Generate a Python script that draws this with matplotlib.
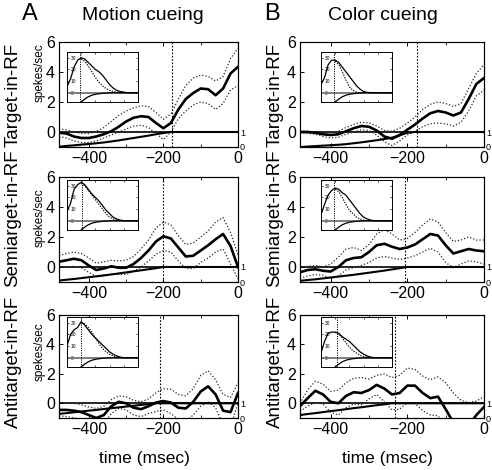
import numpy as np
import matplotlib
matplotlib.use('Agg')
import matplotlib.pyplot as plt

plt.rcParams['font.family'] = ['Liberation Sans', 'DejaVu Sans']

# time axis (msec before saccade), sampled every 20 ms
time_ms = list(range(-480, 1, 20))

# ---- Motion cueing (A) ----
a1_mean = [-0.05, -0.1, -0.3, -0.4, -0.4, -0.3, -0.15, 0.05, 0.35, 0.7, 0.95, 1.05, 1.0,
           0.6, 0.25, 0.6, 1.5, 2.2, 2.6, 2.9, 2.85, 2.45, 2.9, 3.9, 4.35]
a1_upper = [0.2, 0.15, 0.0, -0.1, -0.1, 0.05, 0.3, 0.7, 1.1, 1.4, 1.6, 1.75, 1.7,
            1.3, 0.85, 1.2, 2.2, 3.1, 3.6, 3.8, 3.7, 3.4, 3.7, 4.9, 5.6]
a1_lower = [-0.3, -0.4, -0.6, -0.7, -0.7, -0.6, -0.4, -0.2, 0.0, 0.2, 0.4, 0.45, 0.3,
            -0.1, -0.5, 0.0, 0.9, 1.4, 1.8, 2.0, 1.9, 1.5, 1.9, 2.8, 3.1]
a1_cdf = [0.02, 0.07, 0.11, 0.16, 0.2, 0.25, 0.3, 0.37, 0.44, 0.52, 0.6, 0.68, 0.76,
          0.85, 0.93, 1, 1, 1, 1, 1, 1, 1, 1, 1, 1]

a2_mean = [0.35, 0.45, 0.55, 0.45, 0.1, -0.2, -0.1, 0.05, -0.05, -0.05, 0.2, 0.6, 1.1,
           1.7, 2.05, 1.9, 1.3, 0.7, 0.75, 1.1, 1.45, 1.85, 2.2, 1.4, 0.0]
a2_upper = [0.75, 0.9, 1.0, 0.9, 0.6, 0.25, 0.35, 0.45, 0.4, 0.45, 0.7, 1.2, 1.8,
            2.6, 3.0, 2.8, 2.1, 1.5, 1.6, 2.0, 2.4, 3.0, 3.3, 2.3, 0.8]
a2_lower = [-0.05, 0.0, 0.05, -0.05, -0.35, -0.65, -0.6, -0.45, -0.5, -0.5, -0.3, 0.0, 0.4,
            0.85, 1.1, 1.0, 0.4, -0.1, -0.1, 0.3, 0.6, 1.0, 1.2, 0.2, -0.8]
a2_cdf = [0.1, 0.15, 0.2, 0.26, 0.32, 0.38, 0.44, 0.5, 0.57, 0.64, 0.71, 0.78, 0.85,
          0.92, 1, 1, 1, 1, 1, 1, 1, 1, 1, 1, 1]

a3_mean = [-0.45, -0.45, -0.5, -0.6, -0.8, -1.0, -0.8, -0.2, 0.1, 0.0, -0.3, -0.4, -0.2,
           0.05, 0.15, 0.05, -0.3, -0.35, 0.1, 0.8, 1.15, 0.6, -0.5, -0.6, 0.7]
a3_upper = [0.05, 0.05, 0.0, -0.1, -0.25, -0.35, -0.2, 0.25, 0.5, 0.45, 0.2, 0.1, 0.3,
            0.7, 1.0, 0.95, 0.6, 0.5, 1.0, 1.9, 2.2, 1.6, 0.6, 0.4, 1.4]
a3_lower = [-0.85, -0.9, -1.0, -1.1, -1.3, -1.6, -1.4, -0.7, -0.35, -0.45, -0.8, -0.9, -0.7,
            -0.55, -0.45, -0.7, -1.1, -1.2, -0.8, -0.2, 0.1, -0.3, -1.5, -1.6, 0.0]
a3_cdf = [0.28, 0.33, 0.39, 0.44, 0.5, 0.55, 0.61, 0.67, 0.72, 0.78, 0.83, 0.89, 0.94,
          1, 1, 1, 1, 1, 1, 1, 1, 1, 1, 1, 1]

# ---- Color cueing (B) ----
b1_mean = [0.0, 0.0, -0.05, -0.15, -0.2, -0.15, 0.05, 0.25, 0.4, 0.35, 0.1, -0.3, -0.45,
           -0.2, 0.15, 0.5, 0.9, 1.25, 1.4, 1.3, 1.1, 1.3, 2.2, 3.2, 3.6]
b1_upper = [0.05, 0.05, 0.0, -0.05, -0.05, 0.05, 0.3, 0.5, 0.65, 0.6, 0.4, 0.1, 0.05,
            0.25, 0.6, 1.0, 1.5, 1.85, 2.0, 1.9, 1.7, 1.9, 2.9, 3.9, 4.5]
b1_lower = [-0.05, -0.1, -0.15, -0.3, -0.4, -0.35, -0.15, 0.0, 0.15, 0.1, -0.2, -0.65, -0.9,
            -0.6, -0.2, 0.05, 0.35, 0.55, 0.6, 0.55, 0.4, 0.65, 1.4, 2.4, 2.8]
b1_cdf = [0.0, 0.03, 0.06, 0.09, 0.12, 0.15, 0.19, 0.25, 0.31, 0.38, 0.45, 0.53, 0.62,
          0.78, 0.95, 1, 1, 1, 1, 1, 1, 1, 1, 1, 1]

b2_mean = [-0.35, -0.2, -0.15, -0.25, -0.3, 0.0, 0.45, 0.6, 0.65, 1.0, 1.45, 1.55, 1.35,
           1.2, 1.3, 1.5, 1.85, 2.2, 2.1, 1.45, 0.9, 1.05, 1.2, 1.1, 1.05]
b2_upper = [-0.05, 0.05, 0.1, 0.0, 0.2, 0.65, 1.2, 1.3, 1.1, 1.5, 2.2, 2.5, 2.2,
            1.8, 1.9, 2.3, 2.8, 3.2, 3.0, 2.3, 1.7, 1.8, 2.0, 1.8, 1.8]
b2_lower = [-0.75, -0.6, -0.5, -0.55, -0.75, -0.6, -0.2, -0.05, 0.1, 0.3, 0.6, 0.7, 0.6,
            0.5, 0.6, 0.75, 1.0, 1.25, 1.0, 0.3, -0.05, 0.2, 0.4, 0.35, 0.2]
b2_cdf = [0.08, 0.13, 0.18, 0.24, 0.3, 0.36, 0.42, 0.48, 0.55, 0.62, 0.69, 0.76, 0.84,
          0.92, 1, 1, 1, 1, 1, 1, 1, 1, 1, 1, 1]

b3_mean = [-0.2, 0.35, 0.85, 0.6, 0.1, 0.0, 0.5, 0.75, 0.7, 0.9, 1.25, 1.0, 0.6,
           0.7, 1.2, 1.2, 0.7, 0.35, 0.45, -0.4, -1.3, -1.8, -1.5, -0.8, -0.25]
b3_upper = [0.0, 0.9, 1.5, 1.3, 0.8, 0.9, 1.4, 1.7, 1.75, 1.65, 1.9, 2.0, 1.75,
            1.9, 2.4, 2.3, 1.85, 1.6, 1.8, 1.4, 0.7, 0.2, 0.05, 0.15, 0.45]
b3_lower = [-0.55, -0.2, 0.05, -0.05, -0.6, -0.8, -0.3, -0.05, -0.1, 0.3, 0.6, 0.1, -0.45,
            -0.4, 0.05, 0.0, -0.5, -0.8, -0.85, -1.5, -2.5, -3.0, -2.8, -1.8, -0.9]
b3_cdf = [0.2, 0.27, 0.33, 0.4, 0.47, 0.53, 0.6, 0.67, 0.73, 0.8, 0.87, 0.93, 1,
          1, 1, 1, 1, 1, 1, 1, 1, 1, 1, 1, 1]

# vertical dotted marker per panel (msec)
vline_ms = {'a1': -178, 'a2': -200, 'a3': -208, 'b1': -175, 'b2': -205, 'b3': -232}

# ---- insets (filter kernels) ----
ins_t = list(range(0, 101, 5))
nan = np.nan
ins_pos = {
    'a1': [5, 12, 22, 28, 30, 29, 26, 23, 20, 18, 15, 11, 7, 4, 2, 1, 0.5, 0, 0, 0, 0],
    'a2': [8, 15, 27, 31, 33, 31, 27, 23, 20, 17, 13, 9, 6, 3, 1.5, 0.5, 0, 0, 0, 0, 0],
    'a3': [10, 20, 24, 26, 31, 28, 24, 20, 17, 14, 11, 8, 5, 3, 1.5, 0.5, 0, 0, 0, 0, 0],
    'b1': [7, 13, 24, 28, 28, 26, 22, 18, 14, 10, 6, 3, 1, 0.3, 0, 0, 0, 0, 0, 0, 0],
    'b2': [5, 14, 22, 26, 28, 27, 24, 22, 18, 14, 10, 6, 3, 1.5, 0.5, 0, 0, 0, 0, 0, 0],
    'b3': [4, 14, 21, 22, 22, 21, 18, 16, 14, 11, 8, 5, 3, 1.5, 0.5, 0, 0, 0, 0, 0, 0],
}
ins_dot = {
    'a1': [nan, nan, nan, nan, 29, 27, 23, 18, 13, 9, 6, 3.5, 2, 1, 0.5, 0, 0, 0, 0, 0, 0],
    'a2': [nan, nan, nan, nan, 32, 30, 26, 22, 18, 14, 10, 6, 3, 1.5, 0.5, 0, 0, 0, 0, 0, 0],
    'a3': [nan, nan, nan, nan, 30, 29, 26, 22, 17, 12, 8, 5, 3, 1.5, 0.5, 0, 0, 0, 0, 0, 0],
    'b1': [nan, nan, nan, nan, 27, 24, 18, 11, 5, 2, 0.5, 0, 0, 0, 0, 0, 0, 0, 0, 0, 0],
    'b2': [nan, nan, nan, nan, 27, 25, 20, 14, 9, 6, 3, 1.5, 0.5, 0, 0, 0, 0, 0, 0, 0, 0],
    'b3': [nan, nan, nan, nan, 22, 20, 17, 13, 9, 6, 4, 2, 1, 0.5, 0, 0, 0, 0, 0, 0, 0],
}
ins_neg = [nan, nan, nan, nan, -8, -5.5, -3.5, -2.2, -1.4, -0.9, -0.5, -0.3, -0.1, 0, 0, 0, 0, 0, 0, 0, 0]
ins_vline = {'a1': 19, 'a2': 21, 'a3': 20, 'b1': 18, 'b2': 19, 'b3': 22}

panels = {
    'a1': (a1_mean, a1_upper, a1_lower, a1_cdf),
    'a2': (a2_mean, a2_upper, a2_lower, a2_cdf),
    'a3': (a3_mean, a3_upper, a3_lower, a3_cdf),
    'b1': (b1_mean, b1_upper, b1_lower, b1_cdf),
    'b2': (b2_mean, b2_upper, b2_lower, b2_cdf),
    'b3': (b3_mean, b3_upper, b3_lower, b3_cdf),
}
row_names = ['Target-in-RF', 'Semiarget-in-RF', 'Antitarget-in-RF']

W, H = 492, 470
fig = plt.figure(figsize=(W / 100, H / 100), dpi=100)

col_left = {'a': 59, 'b': 300}
col_width = {'a': 179, 'b': 184}
row_top = [42, 177, 315]
row_h = [105, 105, 103]
inset_left = {'a': 67, 'b': 321}
inset_top = [52, 180, 317]
label_y = [95, 218, 362]
dot_style = (0, (1, 1.6))


def px_axes(x, y, w, h):
    return fig.add_axes([x / W, 1 - (y + h) / H, w / W, h / H])


for col in ['a', 'b']:
    for r in range(3):
        key = col + str(r + 1)
        mean, upper, lower, cdf = panels[key]
        ax = px_axes(col_left[col], row_top[r], col_width[col], row_h[r])

        ax.axhline(0, color='k', lw=1.2, zorder=2)
        ax.axvline(vline_ms[key], color='k', lw=0.8, ls=(0, (1.5, 1.5)), zorder=2)
        ax.plot(time_ms, upper, color='0.15', lw=0.9, ls=dot_style, zorder=3)
        ax.plot(time_ms, lower, color='0.15', lw=0.9, ls=dot_style, zorder=3)
        ax.plot(time_ms, mean, color='k', lw=1.9, zorder=4)

        ax.set_xlim(-480, 0)
        ax.set_ylim(-1, 6)
        ax.set_xticks([-400, -200, 0])
        ax.set_xticks([-300, -100], minor=True)
        ax.set_yticks([0, 2, 4, 6])
        ax.tick_params(direction='in', top=True, right=True, labelsize=11.5,
                       length=3, width=0.7, pad=3)
        ax.tick_params(which='minor', direction='in', top=True, length=2, width=0.6)
        for s in ax.spines.values():
            s.set_linewidth(0.8)

        # cumulative distribution on the right axis (0 at bottom, 1 at y=0)
        ax2 = ax.twinx()
        ax2.plot(time_ms, cdf, color='k', lw=1.5, zorder=5)
        ax2.set_ylim(0, 7)
        ax2.set_yticks([0, 1])
        ax2.tick_params(direction='in', labelsize=6.5, length=2, pad=1.5)

        if col == 'a':
            fig.text(40 / W, 1 - (row_top[r] + row_h[r] * [0.29, 0.39, 0.36][r]) / H,
                     'spekes/sec', rotation=90, ha='center', va='center', fontsize=8.5)
            fig.text(13 / W, 1 - label_y[r] / H, row_names[r], rotation=90,
                     ha='center', va='center', fontsize=13.5)
        else:
            fig.text(275 / W, 1 - label_y[r] / H, row_names[r], rotation=90,
                     ha='center', va='center', fontsize=13.5)

        # inset with kernel shapes
        ins = px_axes(inset_left[col], inset_top[r], 71, 50)
        ins.axhline(0, color='0.45', lw=1.3)
        ins.axvline(ins_vline[key], color='k', lw=0.7, ls=(0, (1.2, 1.2)))
        ins.plot(ins_t, ins_pos[key], color='k', lw=0.9)
        ins.plot(ins_t, ins_dot[key], color='k', lw=0.8, ls=(0, (1.2, 1.2)))
        ins.plot(ins_t, ins_neg, color='k', lw=0.9)
        ins.set_xlim(0, 100)
        ins.set_ylim(-8, 35)
        ins.set_xticks([0, 20, 40, 60, 80, 100])
        ins.set_xticklabels([])
        ins.set_yticks([0, 10, 20, 30])
        ins.tick_params(direction='in', top=True, right=True, labelsize=3.5,
                        length=1.5, width=0.5, pad=1)
        # small tick labels sit just inside the inset box
        ins.tick_params(axis='y', pad=-2.5)
        for lab in ins.get_yticklabels():
            lab.set_horizontalalignment('left')
        for s in ins.spines.values():
            s.set_linewidth(0.7)

        if r == 2:
            cx = 144 if col == 'a' else 387
            fig.text(cx / W, 1 - 459 / H, 'time (msec)', ha='center', va='center', fontsize=12.5)

fig.text(30 / W, 1 - 14 / H, 'A', ha='center', va='center', fontsize=17)
fig.text(272 / W, 1 - 14 / H, 'B', ha='center', va='center', fontsize=17)
fig.text(143 / W, 1 - 16 / H, 'Motion cueing', ha='center', va='center', fontsize=14)
fig.text(383 / W, 1 - 16 / H, 'Color cueing', ha='center', va='center', fontsize=14)

fig.savefig('out.png', dpi=100)
